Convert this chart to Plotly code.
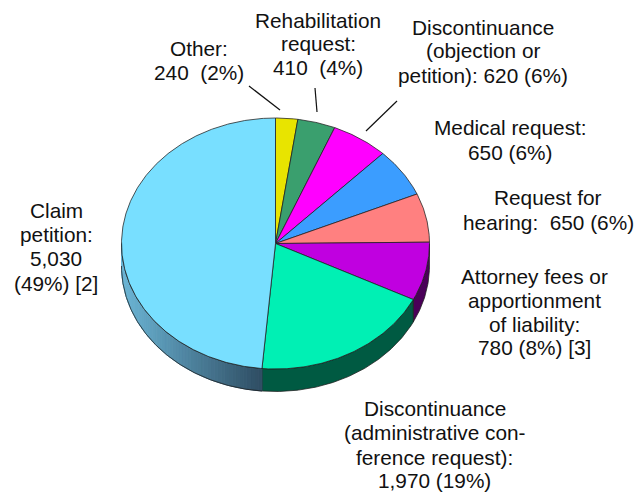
import numpy as np
import plotly.graph_objects as go

# --- data, clockwise from 12 o'clock ---
categories = ["Other", "Rehabilitation request", "Discontinuance (objection or petition)",
              "Medical request", "Request for hearing", "Attorney fees or apportionment of liability",
              "Discontinuance (administrative conference request)", "Claim petition"]
values = [240, 410, 620, 650, 650, 780, 1970, 5030]
top_colors = ["#e8e400", "#3a9f6e", "#ff00ff", "#3b9dff", "#ff8080", "#c000e0", "#00f0b4", "#78dfff"]
side_colors = ["#747200", "#1d5037", "#800080", "#1d4e80", "#804040", "#4a0058", "#005a42", None]

labels = [
    (["Other:", "240  (2%)"], 198.5, [48, 72]),
    (["Rehabilitation", "request:", "410  (4%)"], 318, [20, 43, 67]),
    (["Discontinuance", "(objection or", "petition): 620 (6%)"], 483, [27, 50, 75]),
    (["Medical request:", "650 (6%)"], 510, [127, 152]),
    (["Request for", "hearing:  650 (6%)"], 548, [197, 222]),
    (["Attorney fees or", "apportionment", "of liability:", "780 (8%) [3]"], 534, [276, 300, 324, 347]),
    (["Discontinuance", "(administrative con-", "ference request):", "1,970 (19%)"], 434.5, [408, 432, 457, 480]),
    (["Claim", "petition:", "5,030", "(49%) [2]"], 56, [210, 234, 258, 283]),
]
leaders = [((249, 86), (280, 110)), ((315, 88), (317, 112)), ((397, 101), (366, 131))]

CX, CY, RX, RY, DEPTH = 275.5, 243.5, 154, 125.5, 22.5
EDGE = "rgba(30,30,30,0.75)"
FONT = dict(family="Liberation Sans", size=20.8, color="#111111")


def ell(deg, dy=0.0):
    t = np.radians(deg)
    return CX + RX * np.sin(t), CY - RY * np.cos(t) + dy


def add_poly(fig, x, y, fill, line=EDGE, width=1):
    fig.add_trace(go.Scatter(x=x, y=y, mode="lines", fill="toself", fillcolor=fill,
                             line=dict(color=line, width=width), hoverinfo="skip", showlegend=False))


def side_poly(a, b):
    arc = np.linspace(a, b, max(int(abs(b - a) * 2), 2))
    xt, yt = ell(arc)
    xb, yb = ell(arc[::-1], DEPTH)
    return np.r_[xt, xb, xt[0]], np.r_[yt, yb, yt[0]]


def mix(c1, c2, f):
    return "rgb(%d,%d,%d)" % tuple(c1[i] + (c2[i] - c1[i]) * f for i in range(3))


fig = go.Figure()
edges = np.r_[0, np.cumsum(values)] / sum(values) * 360

# pie wall (visible front half only)
for i in range(len(values)):
    a, b = max(edges[i], 90), min(edges[i + 1], 270)
    if b <= a:
        continue
    if side_colors[i] is None:
        steps = np.linspace(a, b, 61)
        for s0, s1 in zip(steps[:-1], steps[1:]):
            f = (CX + RX * np.sin(np.radians((s0 + s1) / 2)) - (CX - RX)) / (RX * 0.92)
            f = min(max(f, 0), 1)
            c = mix((108, 182, 214), (46, 76, 98), f)
            x, y = side_poly(s0, s1)
            add_poly(fig, x, y, c, line=c)
        arc = np.linspace(a, b, 200)
        for dy in (0, DEPTH):
            xa, ya = ell(arc, dy)
            fig.add_trace(go.Scatter(x=xa, y=ya, mode="lines", line=dict(color=EDGE, width=1),
                                     hoverinfo="skip", showlegend=False))
    else:
        x, y = side_poly(a, b)
        add_poly(fig, x, y, side_colors[i])

# pie top
for i in range(len(values)):
    arc = np.linspace(edges[i], edges[i + 1], max(int((edges[i + 1] - edges[i]) * 2), 2))
    xa, ya = ell(arc)
    add_poly(fig, np.r_[CX, xa, CX], np.r_[CY, ya, CY], top_colors[i])

for p0, p1 in leaders:
    fig.add_trace(go.Scatter(x=[p0[0], p1[0]], y=[p0[1], p1[1]], mode="lines",
                             line=dict(color="#111111", width=1.2), hoverinfo="skip", showlegend=False))

for lines, xc, ys in labels:
    for text, yc in zip(lines, ys):
        fig.add_annotation(x=xc, y=yc, text=text.replace("  ", "&nbsp; "), showarrow=False,
                           xanchor="center", yanchor="middle", font=FONT)

fig.update_layout(
    width=640, height=493, margin=dict(l=0, r=0, t=0, b=0),
    paper_bgcolor="white", plot_bgcolor="white", showlegend=False,
    xaxis=dict(range=[0, 640], visible=False, fixedrange=True),
    yaxis=dict(range=[493, 0], visible=False, fixedrange=True),
)
fig.write_html("out.html", config=dict(displayModeBar=False),
               post_script="document.body.style.margin='0';document.body.style.overflow='hidden';")
